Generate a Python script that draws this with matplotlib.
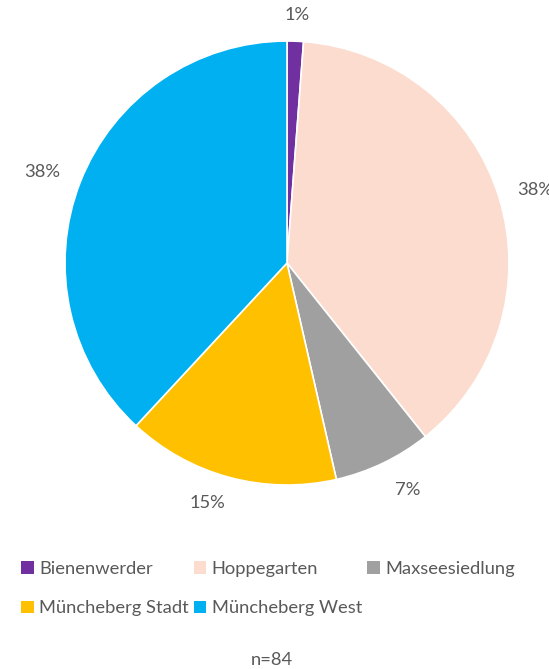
import matplotlib.pyplot as plt
from matplotlib.patches import Patch

# Daten (n=84)
orte = ["Bienenwerder", "Hoppegarten", "Maxseesiedlung", "Müncheberg Stadt", "Müncheberg West"]
anzahl = [1, 32, 6, 13, 32]
farben = ["#7030A0", "#FCDCCE", "#A0A0A0", "#FFC000", "#00B0F0"]
gesamt = "n=84"

plt.rcParams["font.family"] = ["Lato", "DejaVu Sans"]
textfarbe = "#595959"
fs = 13.2

fig = plt.figure(figsize=(5.49, 6.69), dpi=100)
ax = fig.add_axes([0.1184, 0.275, 0.8087, 0.6637])

wedges, texts, autotexts = ax.pie(
    anzahl, colors=farben, startangle=90, counterclock=False,
    autopct="%1.0f%%", pctdistance=1.16, radius=1,
    wedgeprops=dict(edgecolor="white", linewidth=1.2),
    textprops=dict(color=textfarbe, fontsize=fs),
)
# Beschriftungen wie im Original etwas verschoben
label_pos = [(0.045, 1.117), (1.117, 0.329), (0.545, -1.023), (-0.360, -1.081), (-1.104, 0.410)]
for t, pos in zip(autotexts, label_pos):
    t.set_position(pos)
ax.set_xlim(-1, 1)
ax.set_ylim(-1, 1)
ax.set_aspect("equal")

# Legende: spaltenweise Reihenfolge für 3 Spalten
reihenfolge = [0, 3, 1, 4, 2]
handles = [Patch(facecolor=farben[i], edgecolor="none") for i in reihenfolge]
labels = [orte[i] for i in reihenfolge]
fig.legend(handles, labels, ncol=3, loc="upper left", bbox_to_anchor=(0.038, 0.162),
           frameon=False, fontsize=fs, handlelength=0.7, handleheight=0.7,
           handletextpad=0.3, columnspacing=0.25, labelspacing=1.3,
           labelcolor=textfarbe, borderpad=0, borderaxespad=0)

fig.text(272 / 549, 1 - 660 / 669, gesamt, ha="center", va="center",
         color=textfarbe, fontsize=fs)

plt.savefig("out.png", dpi=100)
